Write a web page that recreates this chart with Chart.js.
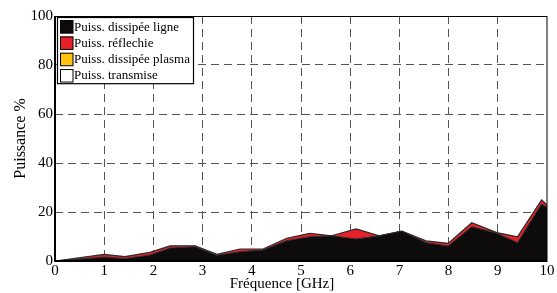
<!DOCTYPE html>
<html lang="fr">
<head>
    <meta charset="UTF-8">
    <title>Puissance vs fréquence</title>
    <script src="https://cdn.jsdelivr.net/npm/chart.js"></script>
    <style>
        body {
            margin: 0;
            padding: 0;
            background-color: #fff;
        }
        .chart-box {
            position: relative;
            width: 557px;
            height: 293px;
        }
    </style>
</head>
<body>
    <div class="chart-box">
        <canvas id="powerChart" width="557" height="293"></canvas>
    </div>

    <script>
        // Values
        const frequences = [0, 1.0, 1.42, 1.93, 2.34, 2.85, 3.29, 3.76, 4.23, 4.71, 5.18, 5.62, 6.12, 6.59, 7.05, 7.54, 7.99, 8.47, 8.98, 9.40, 9.89, 10];
        const pLigne     = [0, 1.6, 1.0, 2.4, 5.3, 5.8, 2.3, 3.8, 4.5, 8.3, 9.9, 10.3, 9.0, 10.3, 12.2, 7.5, 6.1, 14.0, 11.3, 7.5, 23.3, 21.9];
        const pReflechie = [0, 1.1, 0.8, 1.1, 0.9, 0.4, 0.4, 1.1, 0.4, 1.0, 1.4, 0, 4.1, 0, 0, 0.7, 1.1, 1.6, 0.3, 2.4, 1.6, 1.0];
        const pPlasma    = [0, 0, 0, 0, 0, 0, 0, 0, 0, 0, 0, 0, 0, 0, 0, 0, 0, 0, 0, 0, 0, 0];
        const pTransmise = [100, 97.3, 98.2, 96.5, 93.8, 93.8, 97.3, 95.1, 95.1, 90.7, 88.7, 89.7, 86.9, 89.7, 87.8, 91.8, 92.8, 84.4, 88.4, 90.1, 75.1, 77.1];
        const xTicks = [0, 1, 2, 3, 4, 5, 6, 7, 8, 9, 10];
        const yTicks = [0, 20, 40, 60, 80, 100];

        const serif = '"Liberation Serif", "DejaVu Serif", serif';

        function toPoints(values) {
            return values.map((v, i) => ({ x: frequences[i], y: v }));
        }

        // Legend box drawn inside the plot, top-left
        const insideLegend = {
            id: 'insideLegend',
            afterDraw(chart) {
                const ctx = chart.ctx;
                const area = chart.chartArea;
                const x0 = area.left + 2, y0 = area.top + 1;
                const w = 136, rowH = 16.3;
                ctx.save();
                ctx.fillStyle = '#fff';
                ctx.fillRect(x0, y0, w, rowH * 4 + 1);
                ctx.strokeStyle = '#000';
                ctx.lineWidth = 1.2;
                ctx.strokeRect(x0 + 0.5, y0 + 0.5, w, rowH * 4 + 1);
                ctx.font = '13px ' + serif;
                ctx.textBaseline = 'middle';
                chart.data.datasets.forEach((ds, i) => {
                    const cy = y0 + 1.5 + rowH * i + rowH / 2;
                    ctx.fillStyle = ds.swatch;
                    ctx.fillRect(x0 + 3, cy - 6.5, 13, 13);
                    ctx.strokeStyle = '#000';
                    ctx.lineWidth = 1;
                    ctx.strokeRect(x0 + 3.5, cy - 6, 12.5, 12.5);
                    ctx.fillStyle = '#000';
                    ctx.fillText(ds.label, x0 + 17, cy + 0.5);
                });
                ctx.restore();
            }
        };

        // Frame round the plot area
        const frame = {
            id: 'frame',
            afterDatasetsDraw(chart) {
                const ctx = chart.ctx;
                const a = chart.chartArea;
                ctx.save();
                ctx.strokeStyle = '#000';
                ctx.lineWidth = 1;
                ctx.strokeRect(a.left, a.top + 0.5, a.right - a.left, a.bottom - a.top);
                ctx.lineWidth = 2;
                ctx.beginPath();
                ctx.moveTo(a.left, a.top);
                ctx.lineTo(a.left, a.bottom);
                ctx.lineTo(a.right, a.bottom);
                ctx.stroke();
                ctx.restore();
            }
        };

        // The x title sits a little left of the plot centre in the original:
        // narrow the x scale box only while the scales are drawn
        const shiftXTitle = {
            id: 'shiftXTitle',
            beforeDraw(chart) {
                chart.scales.x.right -= 38;
            },
            beforeDatasetsDraw(chart) {
                chart.scales.x.right += 38;
            }
        };

        const gridColor = (ctx) => {
            const v = ctx.tick ? ctx.tick.value : null;
            return (v === 0 || v === 10 || v === 100) ? 'rgba(0,0,0,0)' : '#555';
        };

        const ctxPower = document.getElementById('powerChart').getContext('2d');
        const powerChart = new Chart(ctxPower, {
            type: 'line',
            data: {
                datasets: [
                    {
                        label: 'Puiss. dissipée ligne',
                        data: toPoints(pLigne),
                        swatch: '#0d0b0b',
                        backgroundColor: '#0d0b0b',
                        borderColor: '#2a2a2a',
                        borderWidth: 1,
                        fill: 'origin'
                    },
                    {
                        label: 'Puiss. réflechie',
                        data: toPoints(pReflechie),
                        swatch: '#e8202a',
                        backgroundColor: '#e8202a',
                        borderColor: '#2a2a2a',
                        borderWidth: 1.2,
                        fill: '-1'
                    },
                    {
                        label: 'Puiss. dissipée plasma',
                        data: toPoints(pPlasma),
                        swatch: '#ffc20e',
                        backgroundColor: '#ffc20e',
                        borderColor: 'rgba(0,0,0,0)',
                        borderWidth: 0,
                        fill: '-1'
                    },
                    {
                        // white area up to 100 %, left transparent so the grid stays visible
                        label: 'Puiss. transmise',
                        data: toPoints(pTransmise),
                        swatch: '#ffffff',
                        backgroundColor: 'rgba(255,255,255,0)',
                        borderColor: 'rgba(0,0,0,0)',
                        borderWidth: 0,
                        fill: false
                    }
                ]
            },
            options: {
                responsive: false,
                animation: false,
                layout: { padding: { top: 16, right: 10, left: 0, bottom: 0 } },
                elements: {
                    line: { tension: 0 },
                    point: { radius: 0, hoverRadius: 0 }
                },
                plugins: {
                    legend: { display: false },
                    tooltip: { enabled: false }
                },
                scales: {
                    x: {
                        type: 'linear',
                        min: 0,
                        max: 10,
                        afterBuildTicks: (s) => { s.ticks = xTicks.map(v => ({ value: v })); },
                        afterFit: (s) => { s.height = 32; },
                        grid: {
                            color: gridColor,
                            lineWidth: 1,
                            drawTicks: false
                        },
                        border: { display: false, dash: [8, 5] },
                        ticks: {
                            color: '#000',
                            padding: 1,
                            maxRotation: 0,
                            font: { family: serif, size: 15 }
                        },
                        title: {
                            display: true,
                            text: 'Fréquence [GHz]',
                            color: '#000',
                            padding: { top: -3, bottom: 0 },
                            font: { family: serif, size: 15 }
                        }
                    },
                    y: {
                        stacked: true,
                        min: 0,
                        max: 100,
                        afterBuildTicks: (s) => { s.ticks = yTicks.map(v => ({ value: v })); },
                        afterFit: (s) => { s.width = 55; },
                        grid: {
                            color: gridColor,
                            lineWidth: 1,
                            drawTicks: false
                        },
                        border: { display: false, dash: [8, 5] },
                        ticks: {
                            color: '#000',
                            padding: 2,
                            font: { family: serif, size: 15 }
                        },
                        title: {
                            display: true,
                            text: 'Puissance %',
                            color: '#000',
                            padding: { top: 11, bottom: 0 },
                            font: { family: serif, size: 16 }
                        }
                    }
                }
            },
            plugins: [shiftXTitle, frame, insideLegend]
        });
    </script>
</body>
</html>
